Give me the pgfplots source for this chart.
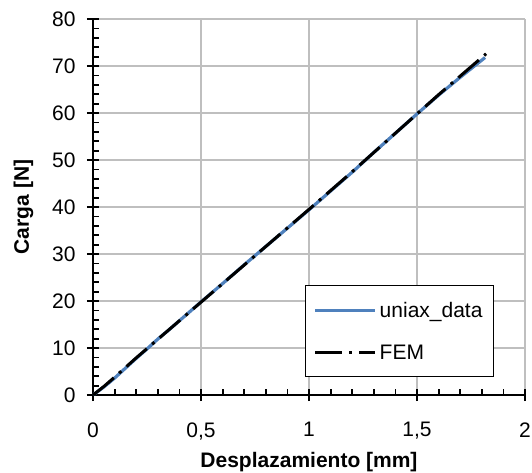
\documentclass[border=0pt]{standalone}
\usepackage{fontspec}
\setmainfont{Liberation Sans}
\usepackage{pgfplots}
\pgfplotsset{compat=1.18}
\newcommand\cfont{\fontsize{21}{25}\selectfont}
\definecolor{uniaxblue}{HTML}{4F81BD}
\definecolor{gridgray}{HTML}{BFBFBF}

% uniaxial test data: displacement [mm], load [N]
\pgfplotstableread{
x y
0     0
0.05  1.7
0.10  3.6
0.15  5.7
0.20  7.8
0.25  9.8
0.30  11.9
0.35  13.8
0.40  15.8
0.50  19.8
0.60  23.7
0.70  27.7
0.80  31.6
0.90  35.5
1.00  39.4
1.10  43.4
1.20  47.4
1.30  51.6
1.40  55.7
1.50  59.8
1.60  63.8
1.70  67.6
1.815 71.8
}\uniaxdata

% finite element result
\pgfplotstableread{
x y
0     0
0.05  1.8
0.10  3.8
0.20  7.9
0.40  15.8
0.60  23.7
0.80  31.6
1.00  39.5
1.20  47.5
1.40  55.7
1.60  63.9
1.82  72.6
}\femdata

\begin{document}
\begin{tikzpicture}
\begin{axis}[
  scale only axis,
  width=432pt, height=376pt,
  xmin=0, xmax=2, ymin=0, ymax=80,
  xtick={0,0.5,...,2}, ytick={0,10,...,80},
  minor x tick num=4, minor y tick num=4,
  axis x line=bottom, axis y line=left,
  axis line style={line width=2.2pt, -},
  tick style={line width=1.8pt, black},
  tick align=center,
  major tick length=12pt,
  minor tick length=6pt,
  every minor x tick/.append style={yshift=3pt},
  every minor y tick/.append style={xshift=3pt},
  grid=major,
  major grid style={line width=1.2pt, gridgray},
  /pgf/number format/use comma,
  /pgf/number format/assume math mode=true,
  tick label style={font=\cfont},
  xticklabel style={yshift=-18pt},
  yticklabel style={xshift=-8pt},
  label style={font=\cfont\bfseries},
  xlabel={Desplazamiento [mm]},
  ylabel={Carga [N]},
  xlabel style={yshift=-6pt},
  ylabel style={yshift=12pt},
  legend style={at={(0.928,0.048)}, anchor=south east,
    draw=black, line width=0.8pt, fill=white, font=\cfont,
    inner xsep=8pt, inner ysep=13pt, row sep=20pt,
    nodes={inner sep=3pt}},
  legend cell align=left,
  legend image code/.code={\draw[#1] (0pt,0pt) -- (60pt,0pt);},
]
\addplot[uniaxblue, line width=3.2pt] table {\uniaxdata};
\addlegendentry{uniax\_data}
\addplot[black, line width=3pt, dash pattern=on 27pt off 7pt on 3pt off 7pt] table {\femdata};
\addlegendentry{FEM}
\coordinate (sw) at (rel axis cs:0,0);
\end{axis}
\pgfresetboundingbox
\path (sw) ++(-93pt,-77pt) rectangle ++(532pt,472pt);
\end{tikzpicture}
\end{document}
